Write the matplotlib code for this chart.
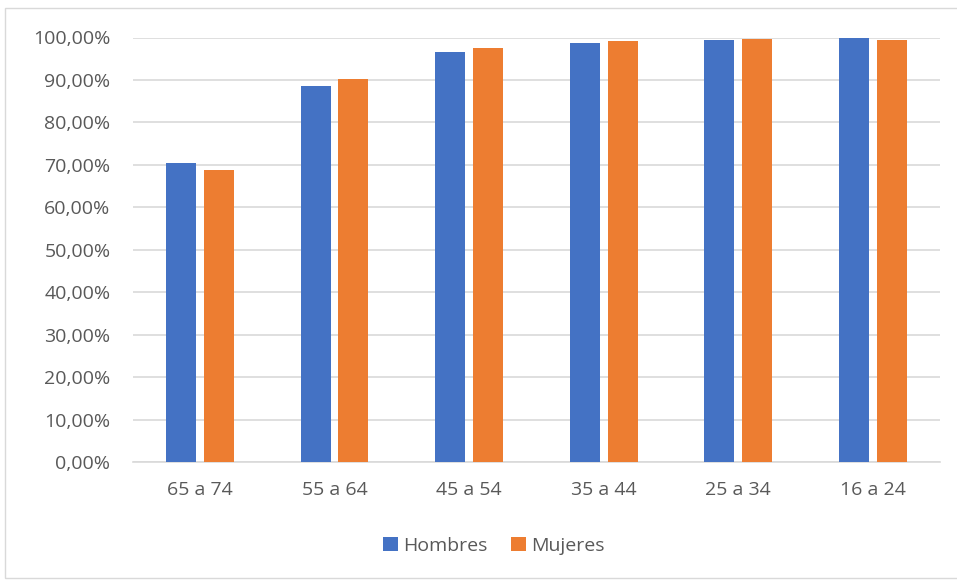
import matplotlib
matplotlib.use("Agg")
import matplotlib.pyplot as plt
import numpy as np
from matplotlib.patches import Rectangle

categories = ["65 a 74", "55 a 64", "45 a 54", "35 a 44", "25 a 34", "16 a 24"]
hombres = [70.5, 88.6, 96.5, 98.8, 99.5, 99.9]
mujeres = [68.9, 90.3, 97.6, 99.2, 99.7, 99.5]
yticks = list(range(0, 101, 10))

plt.rcParams['font.family'] = ['Open Sans', 'DejaVu Sans']

W, H = 957, 581
fig = plt.figure(figsize=(W/100, H/100), dpi=100)
ax = fig.add_axes([132.7/W, 1 - 462/H, (940-132.7)/W, (462-37.5)/H])

x = np.arange(len(categories))
bw = 0.223
off = 0.141
blue = "#4472C4"
orange = "#ED7D31"
ax.bar(x - off, hombres, bw, color=blue, label="Hombres", zorder=3)
ax.bar(x + off, mujeres, bw, color=orange, label="Mujeres", zorder=3)

ax.set_xlim(-0.5, len(categories) - 0.5)
ax.set_ylim(0, 100)
ax.set_yticks(yticks)
ax.set_yticklabels([f"{v},00%" for v in yticks], fontsize=14, color="#595959")
ax.set_xticks(x)
ax.set_xticklabels(categories, fontsize=14, color="#595959")
ax.tick_params(length=0)
ax.tick_params(axis='y', pad=16)
ax.tick_params(axis='x', pad=14)
ax.grid(axis='y', color="#D9D9D9", linewidth=1.2, zorder=0)
for s in ["top", "right", "left"]:
    ax.spines[s].set_visible(False)
ax.spines["bottom"].set_color("#D9D9D9")
ax.spines["bottom"].set_linewidth(1.2)

fig.legend(loc="center", bbox_to_anchor=(494/W, 1 - 546/H), ncol=2, frameon=False,
           fontsize=14, handlelength=0.75, handleheight=0.75, handletextpad=0.3,
           columnspacing=1.2, labelcolor="#595959")

fig.patches.append(Rectangle((5/W, 0.005), 1.2, 1 - 8/H - 0.005, transform=fig.transFigure,
                             fill=False, edgecolor="#D9D9D9", linewidth=1))

fig.savefig("out.png", dpi=100)
